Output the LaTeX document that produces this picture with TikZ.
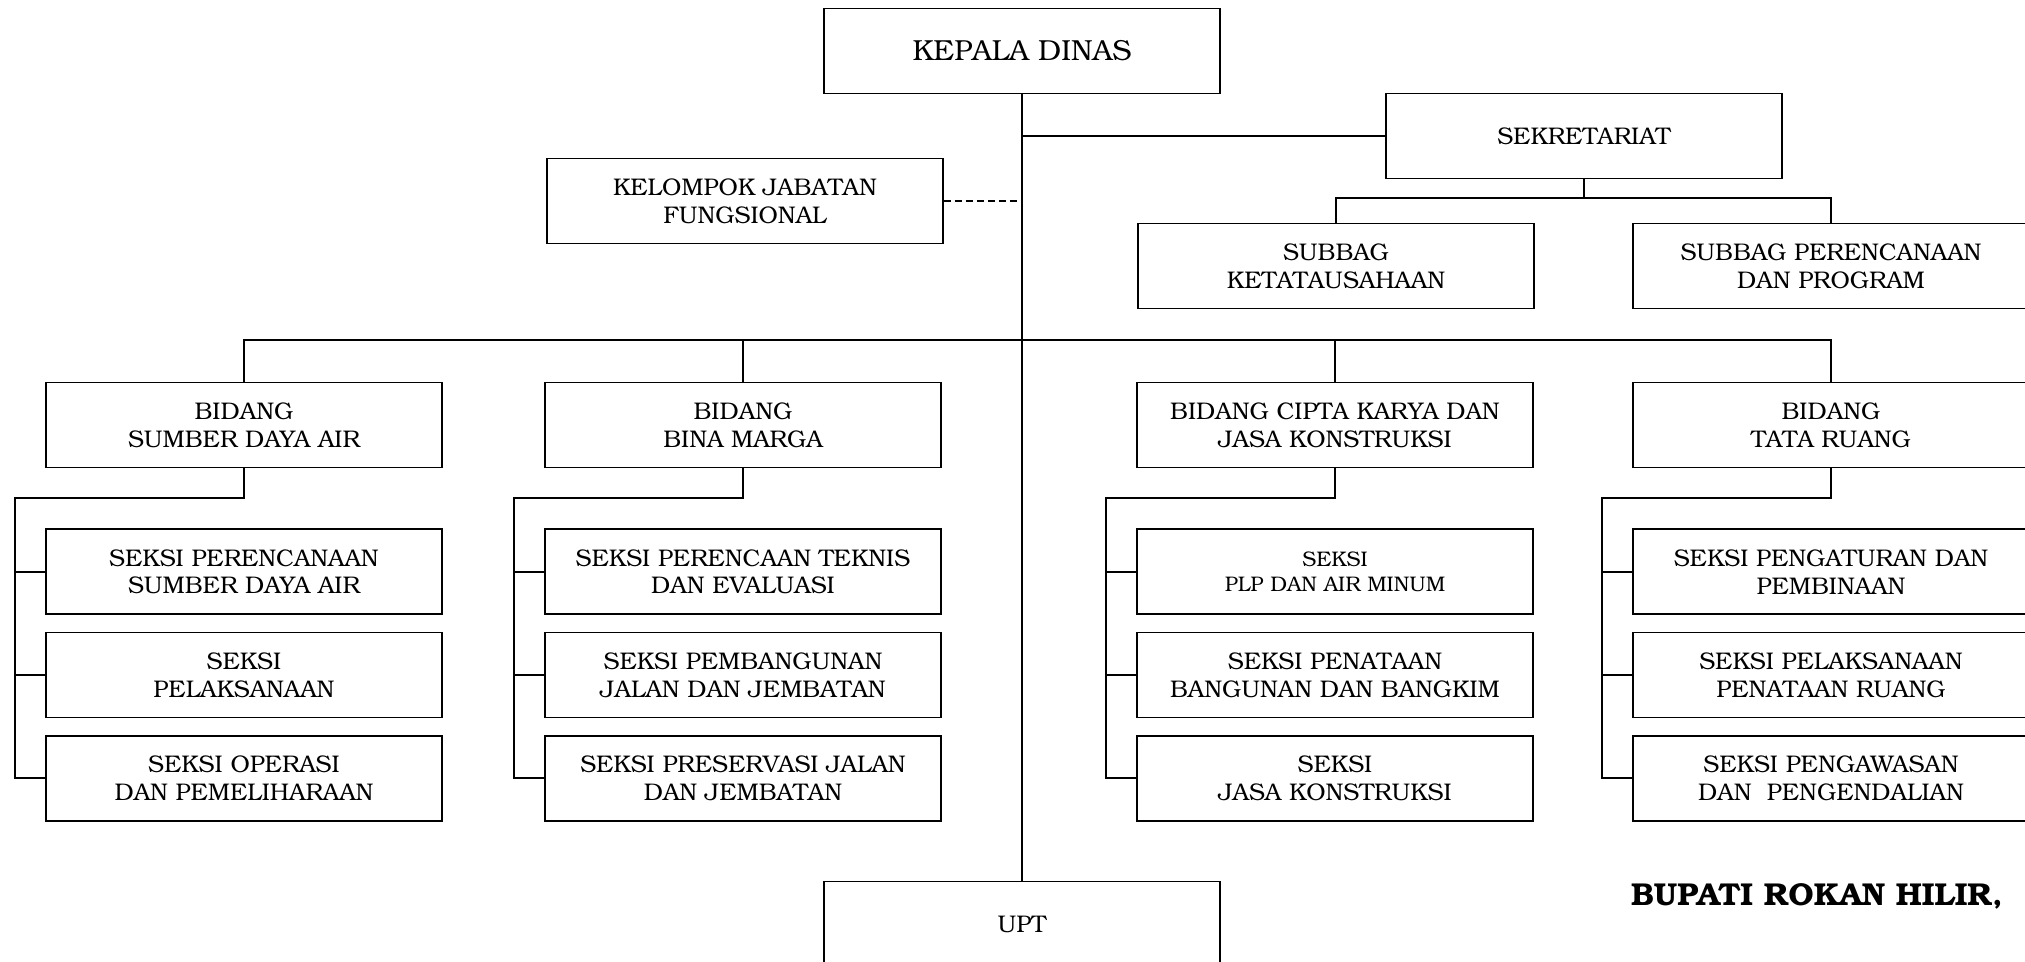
\documentclass[tikz,border=0pt]{standalone}
\usepackage[T1]{fontenc}
\usepackage{bookman}
\usepackage{tikz}
\usetikzlibrary{positioning}
\tikzset{
  % kotak unit kerja
  kotak/.style={
    rectangle,
    draw=black, line width=1pt,
    minimum width=7.92cm,
    minimum height=1.7cm,
    inner sep=0pt,
    align=center,
    font=\fontsize{13.7}{15.8}\selectfont},
  % kotak bidang dan seksi (teks sedikit lebih rendah)
  kotakbawah/.style={
    kotak,
    execute at begin node={\rule{0pt}{17pt}}},
  % garis penghubung
  garis/.style={
    line width=1pt},
}

\begin{document}
\begin{tikzpicture}[x=0.02cm,y=-0.02cm,node distance=0.33cm]
  \useasboundingbox (0,0) rectangle (2025,962);
  % pimpinan dan sekretariat
  \node[kotak,font=\fontsize{16.5}{19}\selectfont] (kadis) at (1022,51) {KEPALA DINAS};
  \node[kotak] (sekret) at (1584,136) {SEKRETARIAT};
  \node[kotak] (kjf) at (745,201) {KELOMPOK JABATAN\\FUNGSIONAL};
  \node[kotak] (subbag1) at (1336,266) {SUBBAG\\KETATAUSAHAAN};
  \node[kotak] (subbag2) at (1831,266) {SUBBAG PERENCANAAN\\DAN PROGRAM};
  \node[kotak] (upt) at (1022,924) {UPT};
  % bidang
  \node[kotakbawah] (sda) at (244,425) {BIDANG\\SUMBER DAYA AIR};
  \node[kotakbawah] (bm) at (743,425) {BIDANG\\BINA MARGA};
  \node[kotakbawah] (ck) at (1335,425) {BIDANG CIPTA KARYA DAN\\JASA KONSTRUKSI};
  \node[kotakbawah] (tr) at (1831,425) {BIDANG\\TATA RUANG};
  % seksi
  \node[kotakbawah,below=1.2cm of sda] (sda1) {SEKSI PERENCANAAN\\SUMBER DAYA AIR};
  \node[kotakbawah,below=of sda1] (sda2) {SEKSI\\PELAKSANAAN};
  \node[kotakbawah,below=of sda2] (sda3) {SEKSI OPERASI\\DAN PEMELIHARAAN};
  \node[kotakbawah,below=1.2cm of bm] (bm1) {SEKSI PERENCAAN TEKNIS\\DAN EVALUASI};
  \node[kotakbawah,below=of bm1] (bm2) {SEKSI PEMBANGUNAN\\JALAN DAN JEMBATAN};
  \node[kotakbawah,below=of bm2] (bm3) {SEKSI PRESERVASI JALAN\\DAN JEMBATAN};
  \node[kotakbawah,below=1.2cm of ck,font=\fontsize{12}{14}\selectfont] (ck1) {SEKSI\\PLP DAN AIR MINUM};
  \node[kotakbawah,below=of ck1] (ck2) {SEKSI PENATAAN\\BANGUNAN DAN BANGKIM};
  \node[kotakbawah,below=of ck2] (ck3) {SEKSI\\JASA KONSTRUKSI};
  \node[kotakbawah,below=1.2cm of tr] (tr1) {SEKSI PENGATURAN DAN\\PEMBINAAN};
  \node[kotakbawah,below=of tr1] (tr2) {SEKSI PELAKSANAAN\\PENATAAN RUANG};
  \node[kotakbawah,below=of tr2] (tr3) {SEKSI PENGAWASAN\\DAN~~PENGENDALIAN};
  \node[font=\fontsize{18}{21}\selectfont\bfseries] (bupati) at (1817,896) {BUPATI ROKAN HILIR,};
  % jalur
  \coordinate (jalurA) at (0,198);
  \coordinate (jalurB) at (0,340);
  \draw[garis] (kadis.south) -- (upt.north);
  \draw[garis] (kadis.south |- sekret.west) -- (sekret.west);
  \draw[garis,dash pattern=on 0.14cm off 0.08cm] (kjf.east) -- (kjf.east -| kadis.south);
  \draw[garis] (sekret.south) -- (sekret.south |- jalurA);
  \draw[garis] (subbag1.north) -- (subbag1.north |- jalurA) -| (subbag2.north);
  \draw[garis] (sda.north) -- (sda.north |- jalurB) -| (tr.north);
  \draw[garis] (bm.north) -- (bm.north |- jalurB);
  \draw[garis] (ck.north) -- (ck.north |- jalurB);
  \foreach \b in {sda,bm,ck,tr} {
    \draw[garis] (\b.south) -- ++(0,30) -| ([xshift=-0.6cm]\b3.west) -- (\b3.west);
    \draw[garis] ([xshift=-0.6cm]\b1.west) -- (\b1.west);
    \draw[garis] ([xshift=-0.6cm]\b2.west) -- (\b2.west);
  }
\end{tikzpicture}
\end{document}
